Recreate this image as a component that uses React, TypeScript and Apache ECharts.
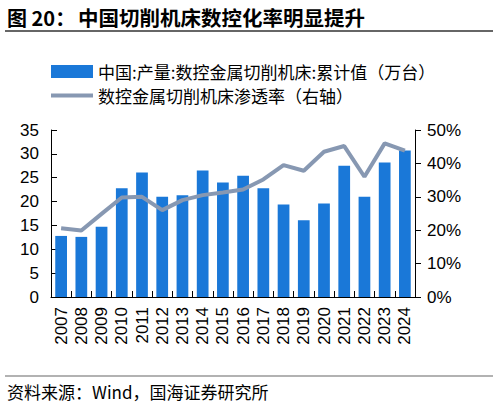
import React, { useEffect, useRef } from "react";
import * as echarts from "echarts";

const categories = ["2007","2008","2009","2010","2011","2012","2013","2014","2015","2016","2017","2018","2019","2020","2021","2022","2023","2024"];
const outputValues = [12.8, 12.6, 14.7, 22.8, 26.1, 21.0, 21.3, 26.5, 24.0, 25.4, 22.8, 19.4, 16.1, 19.6, 27.5, 21.0, 28.2, 30.7];
const rateValues = [20.6, 19.9, 24.9, 29.8, 30.0, 26.0, 29.0, 30.5, 31.3, 32.2, 35.2, 39.5, 37.8, 43.5, 45.2, 36.0, 46.0, 43.8];
const leftTicks = { min: 0, max: 35, interval: 5 };
const rightTicks = { min: 0, max: 50, interval: 10 };

const barName = "中国:产量:数控金属切削机床:累计值（万台）";
const lineName = "数控金属切削机床渗透率（右轴）";
const titlePrefix = "图 20：";
const titleText = "中国切削机床数控化率明显提升";
const sourceText = "资料来源：Wind，国海证券研究所";

const BAR_COLOR = "#1A78D8";
const LINE_COLOR = "#8798B2";
const CJK = "'Noto Sans CJK SC', 'Liberation Sans', sans-serif";
const NUM = "'Liberation Sans', Arial, sans-serif";

export default function App() {
  const ref = useRef<HTMLDivElement>(null);
  useEffect(() => {
    if (!ref.current) return;
    const chart = echarts.init(ref.current, null, { renderer: "svg" });
    chart.setOption({
      animation: false,
      backgroundColor: "#ffffff",
      grid: { left: 51, right: 83, top: 130, bottom: 109, containLabel: false },
      legend: {
        orient: "vertical",
        left: 46,
        top: 58,
        itemWidth: 42,
        itemHeight: 13,
        itemGap: 7,
        textStyle: { fontSize: 17, color: "#000", fontFamily: CJK },
        data: [
          { name: barName, icon: "rect" },
          { name: lineName, icon: "path://M0,0 L42,0 L42,4 L0,4 Z" },
        ],
      },
      xAxis: {
        type: "category",
        data: categories,
        axisLine: { lineStyle: { color: "#000", width: 1 } },
        axisTick: { show: true, inside: true, length: 6, lineStyle: { color: "#000" } },
        axisLabel: { rotate: 90, fontSize: 17, color: "#000", fontFamily: NUM, margin: 10, interval: 0 },
      },
      yAxis: [
        {
          type: "value",
          min: leftTicks.min,
          max: leftTicks.max,
          interval: leftTicks.interval,
          axisLine: { show: true, lineStyle: { color: "#000", width: 1 } },
          axisTick: { show: true, inside: true, length: 6, lineStyle: { color: "#000" } },
          axisLabel: { fontSize: 17, color: "#000", fontFamily: NUM, margin: 12 },
          splitLine: { show: false },
        },
        {
          type: "value",
          min: rightTicks.min,
          max: rightTicks.max,
          interval: rightTicks.interval,
          position: "right",
          axisLine: { show: true, lineStyle: { color: "#000", width: 1 } },
          axisTick: { show: true, inside: false, length: 6, lineStyle: { color: "#000" } },
          axisLabel: { fontSize: 17, color: "#000", fontFamily: NUM, margin: 12, formatter: "{value}%" },
          splitLine: { show: false },
        },
      ],
      series: [
        {
          name: barName,
          type: "bar",
          data: outputValues,
          barWidth: "58%",
          itemStyle: { color: BAR_COLOR },
          yAxisIndex: 0,
        },
        {
          name: lineName,
          type: "line",
          data: rateValues,
          yAxisIndex: 1,
          showSymbol: false,
          symbol: "none",
          lineStyle: { color: LINE_COLOR, width: 4 },
          itemStyle: { color: LINE_COLOR },
        },
      ],
      graphic: [
        {
          type: "text",
          x: 7,
          y: 17,
          style: { text: titlePrefix, fontSize: 20, fontWeight: "bold", fill: "#000", fontFamily: CJK, verticalAlign: "middle", align: "left" },
        },
        {
          type: "text",
          x: 78,
          y: 17,
          style: { text: titleText, fontSize: 20.5, fontWeight: "bold", fill: "#000", fontFamily: CJK, verticalAlign: "middle", align: "left" },
        },
        {
          type: "line",
          shape: { x1: 5, y1: 31, x2: 493, y2: 31 },
          style: { stroke: "#333", lineWidth: 1.3 },
        },
        {
          type: "line",
          shape: { x1: 5, y1: 376, x2: 493, y2: 376 },
          style: { stroke: "#999", lineWidth: 1.5 },
        },
        {
          type: "text",
          x: 7,
          y: 391,
          style: { text: sourceText, fontSize: 17, fill: "#000", fontFamily: CJK, verticalAlign: "middle", align: "left" },
        },
      ],
    });
    return () => chart.dispose();
  }, []);
  return (
    <div
      ref={ref}
      style={{ position: "fixed", left: 0, top: 0, width: 498, height: 406, background: "#fff" }}
    />
  );
}
